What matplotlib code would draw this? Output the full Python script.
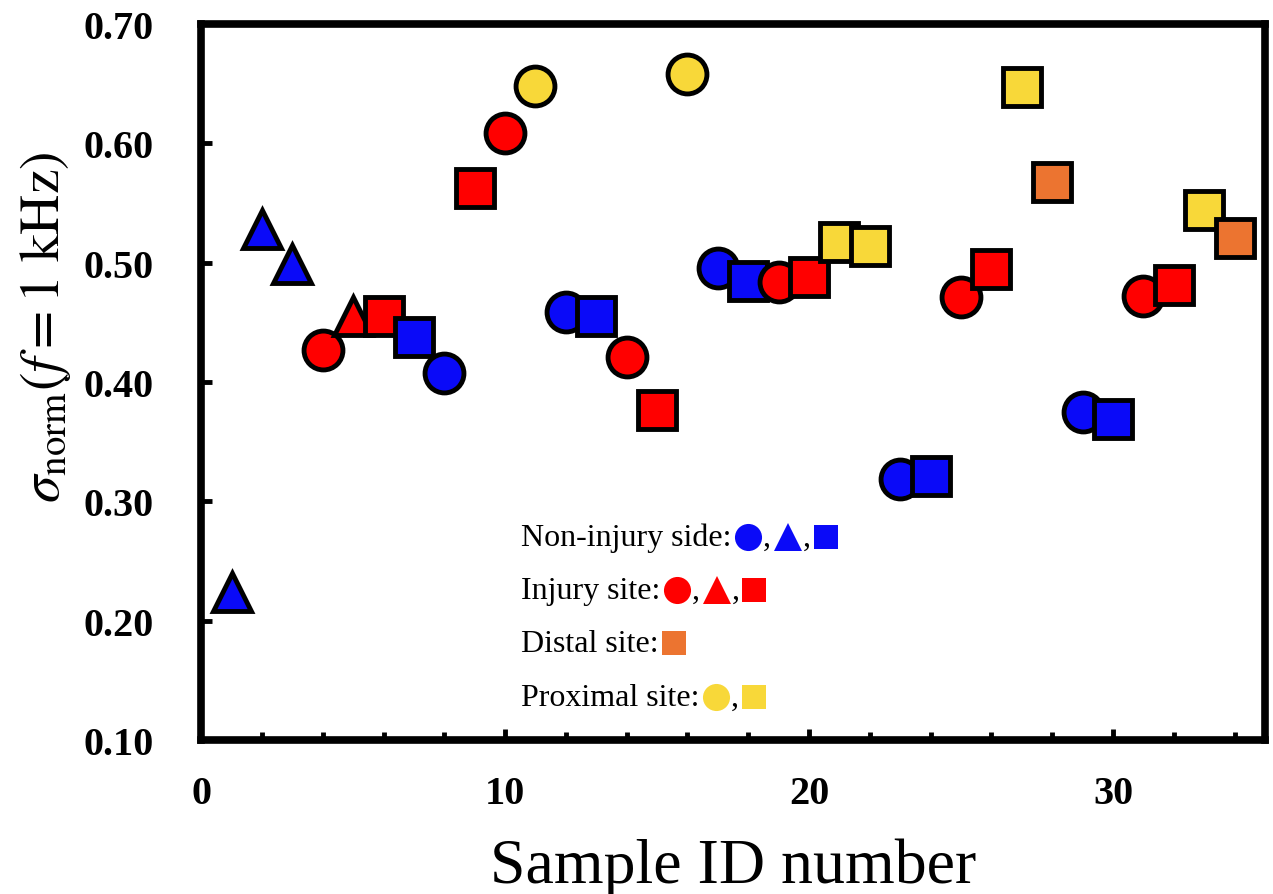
import matplotlib
matplotlib.use("Agg")
import matplotlib.pyplot as plt
from matplotlib.ticker import MultipleLocator, FormatStrFormatter

# ---------------- data ----------------
sample_id = list(range(1, 35))
sigma_norm = [0.224, 0.528, 0.499, 0.427, 0.455, 0.455, 0.438, 0.408, 0.563, 0.609,
              0.648, 0.459, 0.455, 0.421, 0.377, 0.658, 0.496, 0.485, 0.484, 0.488,
              0.517, 0.514, 0.319, 0.321, 0.471, 0.495, 0.647, 0.568, 0.375, 0.369,
              0.472, 0.481, 0.544, 0.521]
site = ['non', 'non', 'non', 'inj', 'inj', 'inj', 'non', 'non', 'inj', 'inj',
        'prox', 'non', 'non', 'inj', 'inj', 'prox', 'non', 'non', 'inj', 'inj',
        'prox', 'prox', 'non', 'non', 'inj', 'inj', 'prox', 'dist', 'non', 'non',
        'inj', 'inj', 'prox', 'dist']
shape = ['^', '^', '^', 'o', '^', 's', 's', 'o', 's', 'o',
         'o', 'o', 's', 'o', 's', 'o', 'o', 's', 'o', 's',
         's', 's', 'o', 's', 'o', 's', 's', 's', 'o', 's',
         'o', 's', 's', 's']
site_color = {'non': '#0A0AF8', 'inj': '#FF0000', 'dist': '#EC7430', 'prox': '#F8D839'}

legend_rows = [("Non-injury side:", [('o', 'non'), ('^', 'non'), ('s', 'non')]),
               ("Injury site:", [('o', 'inj'), ('^', 'inj'), ('s', 'inj')]),
               ("Distal site:", [('s', 'dist')]),
               ("Proximal site:", [('o', 'prox'), ('s', 'prox')])]

x_label = "Sample ID number"
y_label = r"$\sigma_{\mathrm{norm}}(f=1\ \mathrm{kHz})$"

# ---------------- figure ----------------
plt.rcParams['font.family'] = ['Liberation Serif', 'DejaVu Serif']
plt.rcParams['mathtext.fontset'] = 'stix'

fig = plt.figure(figsize=(12.73, 8.95), dpi=100)
ax = fig.add_axes([0.158, 0.172, 0.9937 - 0.158, 0.972 - 0.172])

for xi, yi, st, sh in zip(sample_id, sigma_norm, site, shape):
    ax.plot([xi], [yi], linestyle='none', marker=sh, markersize=28,
            markerfacecolor=site_color[st], markeredgecolor='black',
            markeredgewidth=3.5, zorder=3)

ax.set_xlim(0, 35)
ax.set_ylim(0.10, 0.70)
ax.xaxis.set_major_locator(MultipleLocator(10))
ax.xaxis.set_minor_locator(MultipleLocator(2))
ax.yaxis.set_major_locator(MultipleLocator(0.1))
ax.yaxis.set_major_formatter(FormatStrFormatter('%.2f'))

for sp in ax.spines.values():
    sp.set_linewidth(5.5)
ax.tick_params(axis='both', which='major', direction='in', length=8, width=3.5)
ax.tick_params(axis='both', which='minor', direction='in', length=5.5, width=3.5)
ax.tick_params(axis='x', which='major', pad=25)
ax.tick_params(axis='y', which='major', pad=34)
for lab in ax.get_xticklabels() + ax.get_yticklabels():
    lab.set_fontsize(29)
    lab.set_fontweight('bold')

ax.text(0.5, -0.198, x_label, transform=ax.transAxes, ha='center',
        va='baseline', fontsize=46)
ax.text(-0.146, 0.578, y_label, transform=ax.transAxes, rotation=90,
        ha='center', va='center', fontsize=40)

# ---------------- custom legend ----------------
fig.canvas.draw()
renderer = fig.canvas.get_renderer()
row_y = [0.2835, 0.2095, 0.1355, 0.060]
x0 = 0.301
to_axes = ax.transAxes.inverted()
gap = 3
leg_ms = {'o': 19.5, '^': 20, 's': 17}
for (label, items), yy in zip(legend_rows, row_y):
    t = ax.text(x0, yy, label, transform=ax.transAxes, ha='left', va='center',
                fontsize=23)
    bb = t.get_window_extent(renderer)
    cursor = bb.x1
    yc_disp = ax.transAxes.transform((0, yy))[1]
    for k, (mk, st) in enumerate(items):
        size_px = leg_ms[mk] * fig.dpi / 72.0
        cx = cursor + gap + size_px / 2
        ax_x, ax_y = to_axes.transform((cx, yc_disp))
        ax.plot([ax_x], [ax_y], transform=ax.transAxes, linestyle='none',
                marker=mk, markersize=leg_ms[mk], markerfacecolor=site_color[st],
                markeredgewidth=0, clip_on=False, zorder=4)
        cursor = cx + size_px / 2
        if k < len(items) - 1:
            cax = to_axes.transform((cursor + 1, yc_disp))[0]
            c = ax.text(cax, yy, ",", transform=ax.transAxes, ha='left',
                        va='center', fontsize=23)
            cb = c.get_window_extent(renderer)
            cursor = cb.x1

fig.savefig("out.png", dpi=100)
